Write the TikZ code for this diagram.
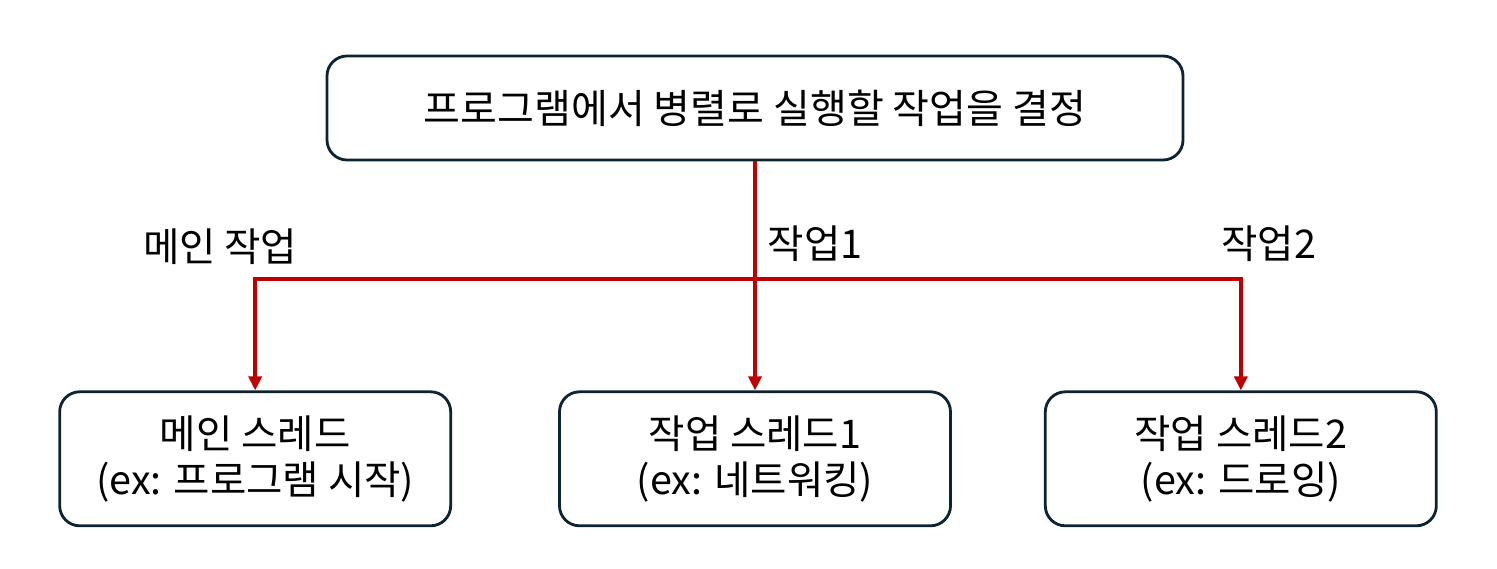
\documentclass[tikz,border=0pt]{standalone}
\usepackage{fontspec}
\setmainfont{Noto Sans CJK KR}
\usetikzlibrary{arrows.meta, positioning, calc}
\definecolor{edge}{RGB}{12,35,50}
\definecolor{flow}{RGB}{192,0,0}

\begin{document}
\begin{tikzpicture}[
      node distance=0.05cm,
      task/.style={rectangle, rounded corners=0.4cm, draw=edge, line width=1.6pt,
                   minimum width=7.82cm, minimum height=2.68cm,
                   font=\fontsize{22.5}{26.5}\selectfont, align=center},
      lbl/.style={font=\fontsize{22.5}{26}\selectfont},
      arr/.style={-{Triangle[length=0.28cm, width=0.26cm]}, line width=2.3pt, draw=flow}
    ]
    \useasboundingbox (0,0) rectangle (29.94,-11.38);
    \node[task, minimum width=17.12cm, minimum height=2.08cm,
          font=\fontsize{22.8}{26}\selectfont] (plan) at (15.10,-2.16)
          {프로그램에서 병렬로 실행할 작업을 결정};
    \node[task, below=4.58cm of plan] (work1) {작업 스레드1\\(ex: 네트워킹)};
    \node[task, left=2.12cm of work1] (main) {메인 스레드\\(ex: 프로그램 시작)};
    \node[task, right=1.84cm of work1] (work2) {작업 스레드2\\(ex: 드로잉)};
    \coordinate[below=2.36cm of plan.south] (split);
    \draw[arr] (plan.south) -- (work1.north);
    \draw[arr] (split) -| (main.north);
    \draw[arr] (split) -| (work2.north);
    \node[lbl] (lmain) at ($(split -| main.north)+(-0.7,0.66)$) {메인 작업};
    \node[lbl] (lwork1) at ($(split)+(1.2,0.72)$) {작업1};
    \node[lbl] (lwork2) at ($(split -| work2.north)+(0.56,0.72)$) {작업2};
  \end{tikzpicture}
\end{document}
